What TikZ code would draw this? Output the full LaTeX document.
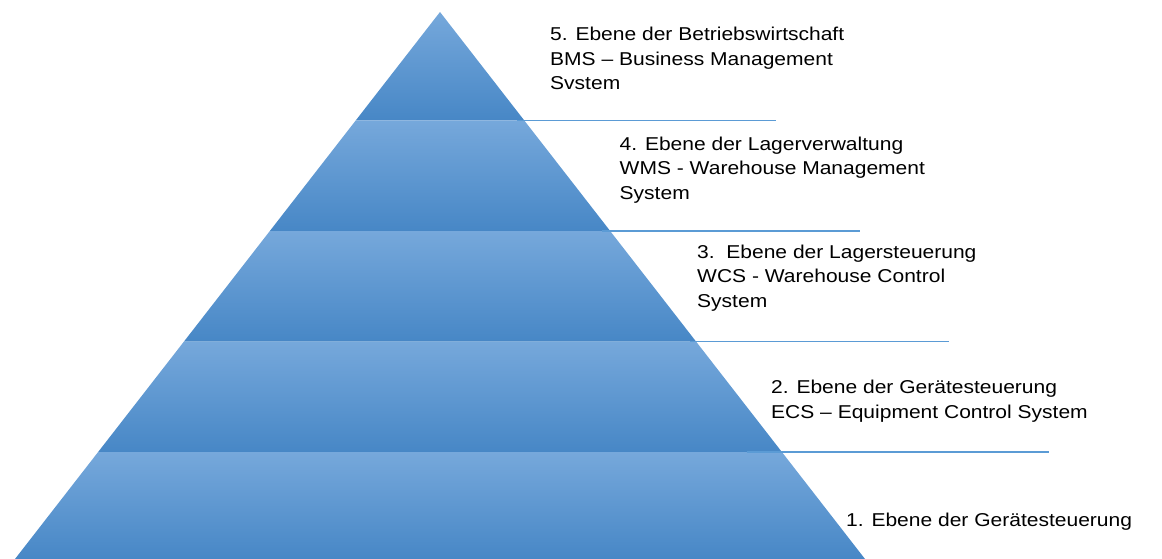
\documentclass[tikz,border=0pt]{standalone}
\usepackage{fontspec}
\setmainfont{Liberation Sans}[FakeStretch=1.13]
\definecolor{layertop}{HTML}{76A8DB}
\definecolor{layermid}{HTML}{5A9CDB}
\definecolor{layerbot}{HTML}{4787C6}
\definecolor{leadline}{HTML}{5B9BD5}
\begin{document}
\begin{tikzpicture}[x=1pt,y=-1pt,
  layer/.style={top color=layertop, middle color=layermid, bottom color=layerbot, draw=none},
  leader/.style={draw=leadline, line width=1.1pt},
  caption/.style={anchor=base west, inner sep=0pt, align=left,
    font=\fontsize{18.6}{24.5}\selectfont, text=black}]
\useasboundingbox (0,0) rectangle (1162,559);

% pyramid corners on each level boundary (left / right)
\coordinate (apex) at (440,12);
\coordinate (l4) at (355.7,120.5) ; \coordinate (r4) at (524.3,120.5);
\coordinate (l3) at (269.84,231)  ; \coordinate (r3) at (610.16,231);
\coordinate (l2) at (183.99,341.5); \coordinate (r2) at (696.01,341.5);
\coordinate (l1) at (98.13,452)   ; \coordinate (r1) at (781.87,452);
\coordinate (l0) at (15,559)      ; \coordinate (r0) at (865,559);

% the five levels
\shade[layer] (apex) -- (r4) -- (l4) -- cycle;
\shade[layer] (l4) -- (r4) -- (r3) -- (l3) -- cycle;
\shade[layer] (l3) -- (r3) -- (r2) -- (l2) -- cycle;
\shade[layer] (l2) -- (r2) -- (r1) -- (l1) -- cycle;
\shade[layer] (l1) -- (r1) -- (r0) -- (l0) -- cycle;

% leader lines out of the level boundaries
\coordinate (s4) at (517,120.5);  \coordinate (e4) at (776,120.5);
\coordinate (s3) at (602,231);    \coordinate (e3) at (860,231);
\coordinate (s2) at (690,341.5);  \coordinate (e2) at (949,341.5);
\coordinate (s1) at (747,452);    \coordinate (e1) at (1049,452);
\draw[leader] (s4) -- (e4);
\draw[leader] (s3) -- (e3);
\draw[leader] (s2) -- (e2);
\draw[leader] (s1) -- (e1);

% level captions (anchored on the baseline of their last line)
\node[caption] (t5) at (550,90)
  {5. Ebene der Betriebswirtschaft\\BMS – Business Management\\Svstem};
\node[caption] (t4) at (619.5,199.5)
  {4. Ebene der Lagerverwaltung\\WMS - Warehouse Management\\System};
\node[caption] (t3) at (697,307)
  {3.\ \ Ebene der Lagersteuerung\\WCS - Warehouse Control\\System};
\node[caption] (t2) at (771,418)
  {2. Ebene der Gerätesteuerung\\ECS – Equipment Control System};
\node[caption] (t1) at (846,526.7)
  {1. Ebene der Gerätesteuerung};
\end{tikzpicture}
\end{document}
